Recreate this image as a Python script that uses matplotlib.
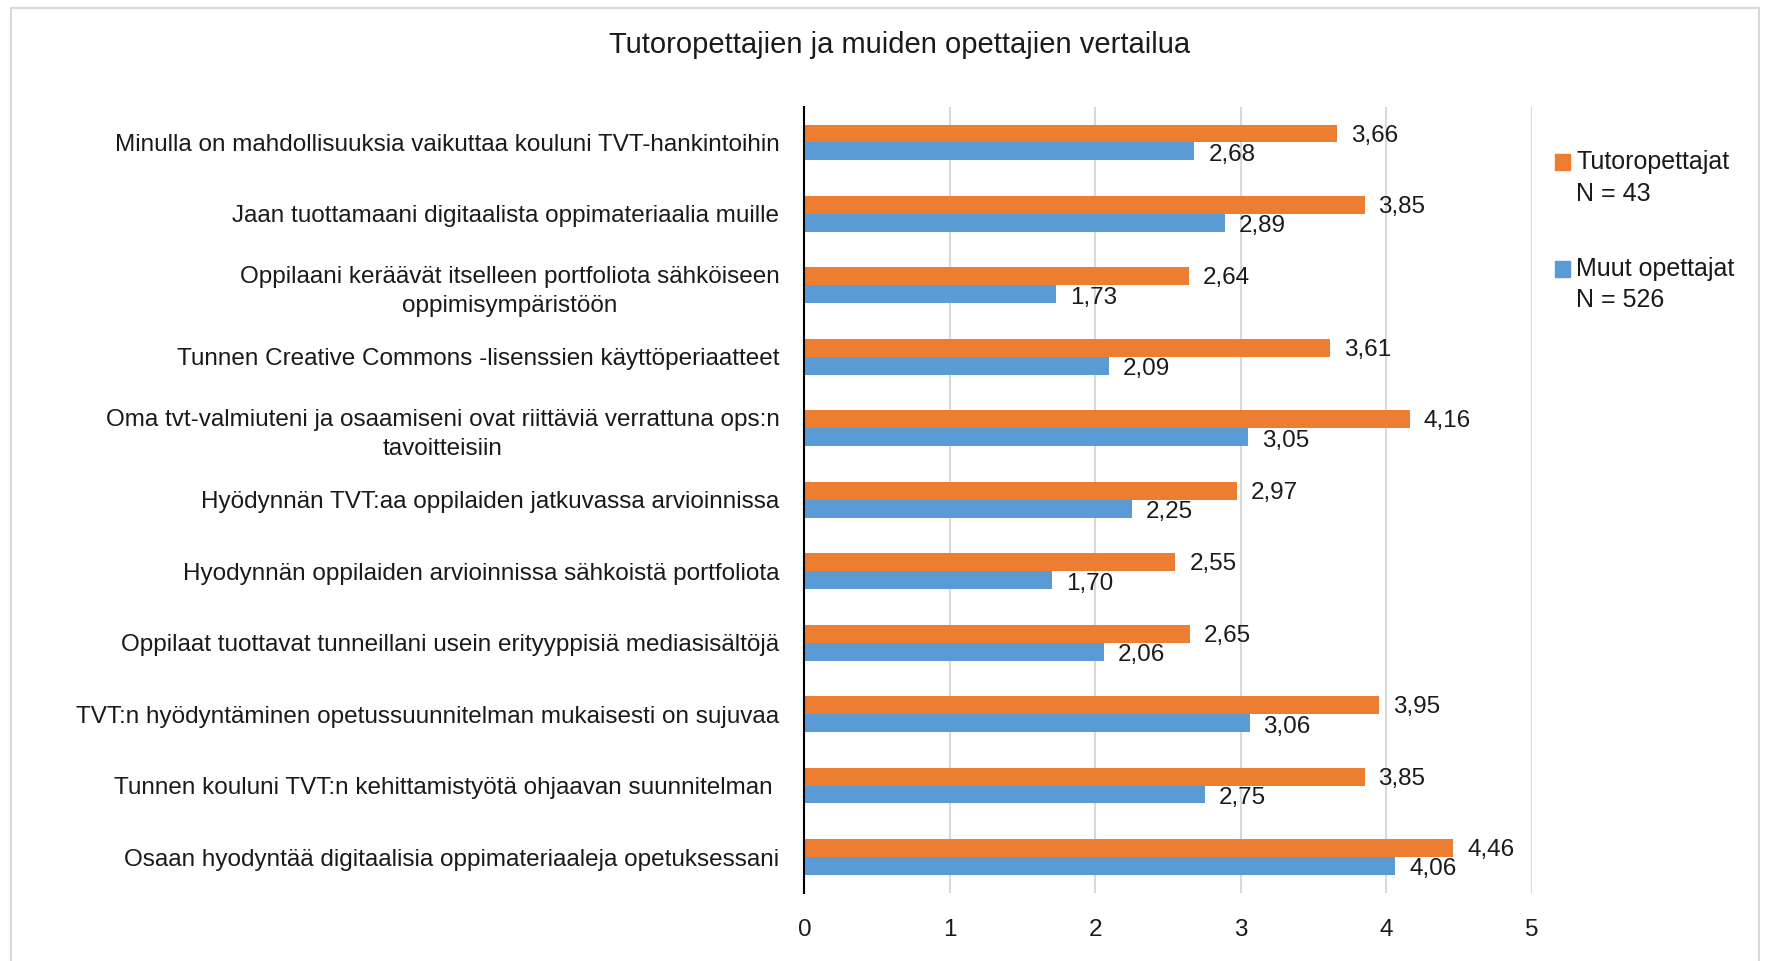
import numpy as np
import matplotlib.pyplot as plt
from matplotlib.patches import Patch, Rectangle
from matplotlib.legend_handler import HandlerPatch

plt.rcParams['font.family'] = ['Liberation Sans', 'DejaVu Sans']

# Kysymykset ylhäältä alas
categories = [
    "Minulla on mahdollisuuksia vaikuttaa kouluni TVT-hankintoihin",
    "Jaan tuottamaani digitaalista oppimateriaalia muille",
    "Oppilaani keräävät itselleen portfoliota sähköiseen\noppimisympäristöön",
    "Tunnen Creative Commons -lisenssien käyttöperiaatteet",
    "Oma tvt-valmiuteni ja osaamiseni ovat riittäviä verrattuna ops:n\ntavoitteisiin",
    "Hyödynnän TVT:aa oppilaiden jatkuvassa arvioinnissa",
    "Hyodynnän oppilaiden arvioinnissa sähkoistä portfoliota",
    "Oppilaat tuottavat tunneillani usein erityyppisiä mediasisältöjä",
    "TVT:n hyödyntäminen opetussuunnitelman mukaisesti on sujuvaa",
    "Tunnen kouluni TVT:n kehittamistyötä ohjaavan suunnitelman ",
    "Osaan hyodyntää digitaalisia oppimateriaaleja opetuksessani",
]
tutor = [3.66, 3.85, 2.64, 3.61, 4.16, 2.97, 2.55, 2.65, 3.95, 3.85, 4.46]
muut = [2.68, 2.89, 1.73, 2.09, 3.05, 2.25, 1.70, 2.06, 3.06, 2.75, 4.06]
x_ticks = [0, 1, 2, 3, 4, 5]

orange = '#ED7D31'
blue = '#5B9BD5'
text_col = '#1a1a1a'
fs = 17.5

fig = plt.figure(figsize=(17.72, 9.61), dpi=100)
ax = fig.add_axes([0.454, 0.071, 0.4105, 0.818])

# harmaa kehys kaavion ympärillä
fig.patches.append(Rectangle((11 / 1772, -0.01), (1759 - 11) / 1772, 1 - 8 / 961 + 0.01,
                             transform=fig.transFigure, fill=False,
                             edgecolor='#d9d9d9', linewidth=1.5))

y = np.arange(len(categories))
h = 0.25
ax.barh(y - h / 2, tutor, height=h, color=orange, zorder=3)
ax.barh(y + h / 2, muut, height=h, color=blue, zorder=3)

fmt = lambda v: f"{v:.2f}".replace('.', ',')
for yi, v in zip(y, tutor):
    ax.annotate(fmt(v), (v, yi - h / 2), xytext=(10, -1.5), textcoords='offset points',
                va='center', ha='left', fontsize=fs, color=text_col)
for yi, v in zip(y, muut):
    ax.annotate(fmt(v), (v, yi + h / 2), xytext=(10, -2.5), textcoords='offset points',
                va='center', ha='left', fontsize=fs, color=text_col)

ax.set_xlim(0, 5)
ax.set_ylim(len(categories) - 0.5, -0.5)
ax.set_xticks(x_ticks)
ax.set_xticklabels([str(t) for t in x_ticks])
ax.set_yticks(y)
ax.set_yticklabels(categories, multialignment='center', linespacing=1.45)
ax.tick_params(axis='y', length=0, pad=18, labelsize=fs, labelcolor=text_col)
ax.tick_params(axis='x', length=0, pad=19, labelsize=fs, labelcolor=text_col)
ax.grid(axis='x', color='#d9d9d9', linewidth=1.5, zorder=0)
for s in ['top', 'right', 'bottom']:
    ax.spines[s].set_visible(False)
ax.spines['left'].set_color('black')
ax.spines['left'].set_linewidth(1.5)
ax.spines['left'].set_zorder(4)

fig.text(900 / 1772, 1 - 45 / 961, "Tutoropettajien ja muiden opettajien vertailua",
         ha='center', va='center', fontsize=21, color=text_col)

# legendan neliö ensimmäisen rivin kohdalle
leg_fs = 18
leg_ls = 1.4
lift = 0.5 * leg_ls * leg_fs * 0.95


def top_square(legend, orig_handle, xdescent, ydescent, width, height, fontsize):
    return Rectangle((-xdescent, -ydescent + lift), width, height)


handles = [Patch(color=orange), Patch(color=blue)]
leg = fig.legend(handles, ["Tutoropettajat\nN = 43", "Muut opettajat\nN = 526"],
                 loc='upper left', bbox_to_anchor=(1545 / 1772, 1 - 140 / 961),
                 frameon=False, fontsize=leg_fs, handlelength=0.6, handleheight=0.6,
                 handletextpad=0.25, labelspacing=2.05, borderaxespad=0,
                 handler_map={Patch: HandlerPatch(patch_func=top_square)})
for t in leg.get_texts():
    t.set_color(text_col)
    t.set_linespacing(leg_ls)

fig.savefig('out.png', dpi=100)
